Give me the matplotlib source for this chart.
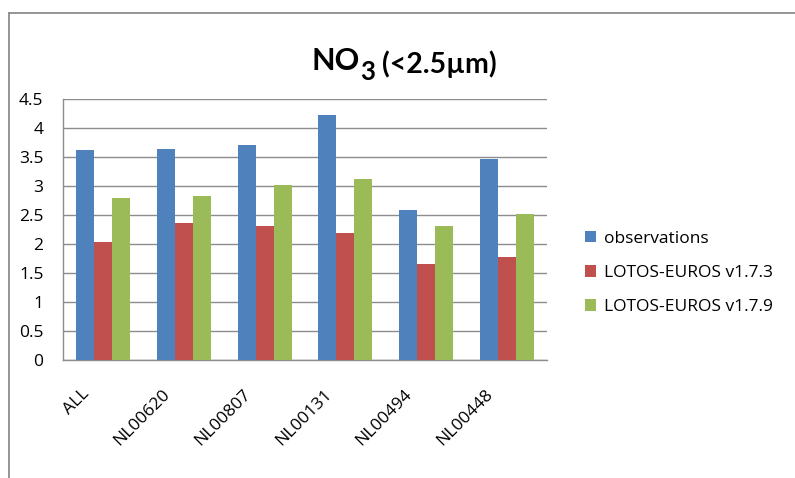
import numpy as np
import matplotlib.pyplot as plt
import matplotlib.transforms as mtransforms
from matplotlib.lines import Line2D

plt.rcParams['font.family'] = ['Open Sans', 'DejaVu Sans']

sites = ['ALL', 'NL00620', 'NL00807', 'NL00131', 'NL00494', 'NL00448']
observations = [3.62, 3.64, 3.71, 4.23, 2.59, 3.47]
le_v173 = [2.04, 2.36, 2.31, 2.19, 1.66, 1.78]
le_v179 = [2.80, 2.83, 3.01, 3.12, 2.31, 2.51]
series_names = ['observations', 'LOTOS-EUROS v1.7.3', 'LOTOS-EUROS v1.7.9']
colors = ['#4F81BD', '#C0504D', '#9BBB59']

fig = plt.figure(figsize=(7.95, 4.78), dpi=100)
ax = fig.add_axes([63 / 795, 1 - 360 / 478, (547 - 63) / 795, (360 - 99) / 478])

x = np.arange(len(sites))
w = 1 / 4.5
for i, (vals, name, c) in enumerate(zip([observations, le_v173, le_v179], series_names, colors)):
    ax.bar(x + (i - 1) * w, vals, width=w, color=c, label=name, zorder=3)

ax.set_xlim(-0.5, len(sites) - 0.5)
ax.set_ylim(0, 4.5)
ax.set_yticks(np.arange(0, 4.51, 0.5))
ax.set_yticklabels(['0', '0.5', '1', '1.5', '2', '2.5', '3', '3.5', '4', '4.5'])
ax.grid(axis='y', color='#8c8c8c', linewidth=1.0, zorder=0)
for s in ['top', 'right']:
    ax.spines[s].set_visible(False)
for s in ['left', 'bottom']:
    ax.spines[s].set_color('#8c8c8c')
    ax.spines[s].set_linewidth(1.0)
ax.tick_params(axis='y', length=0, pad=14, labelsize=12.5)
ax.tick_params(axis='x', length=0, pad=23, labelsize=12.5)

ax.set_xticks(x)
ax.set_xticklabels(sites, rotation=45, ha='right', va='center', rotation_mode='anchor')
shift = mtransforms.ScaledTranslation(-16 / 100, 0, fig.dpi_scale_trans)
for lab in ax.get_xticklabels():
    lab.set_transform(lab.get_transform() + shift)

# title: NO with subscript 3, then the size range
bold = dict(fontweight='bold', family=['Lato', 'DejaVu Sans'], va='baseline')
t1 = fig.text(312 / 795, 1 - 70 / 478, 'NO', fontsize=22, **bold)
t2 = ax.annotate('3', xy=(1, 478 - 80), xycoords=(t1, 'figure pixels'),
                 xytext=(0, 0), textcoords='offset points', fontsize=18.5, **bold)
ax.annotate('(<2.5µm)', xy=(1, 478 - 73), xycoords=(t2, 'figure pixels'),
            xytext=(5, 0), textcoords='offset points', fontsize=20.5, **bold)

ax.legend(loc='center left', bbox_to_anchor=(585 / 795, 1 - 273 / 478),
          bbox_transform=fig.transFigure, frameon=False, fontsize=12.5,
          handlelength=0.62, handleheight=0.62, handletextpad=0.45,
          labelspacing=1.05, borderpad=0, borderaxespad=0)

# chart area border (top and left edges)
fig.add_artist(Line2D([8.5 / 795, 1], [1 - 13 / 478, 1 - 13 / 478], color='#8c8c8c', linewidth=1.3))
fig.add_artist(Line2D([8.5 / 795, 8.5 / 795], [0, 1 - 13 / 478], color='#8c8c8c', linewidth=1.3))

fig.savefig('out.png', dpi=100)
